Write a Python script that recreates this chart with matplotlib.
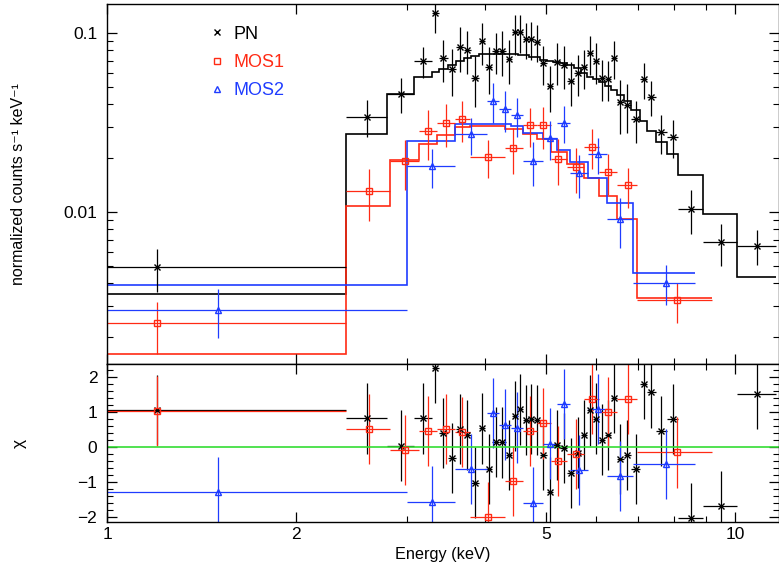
import matplotlib.pyplot as plt
from matplotlib.lines import Line2D
import numpy as np

plt.rcParams['font.family'] = ['Liberation Sans', 'DejaVu Sans']

# ---- PN (black) ----
pn_edges = [0.5, 2.4026, 2.7889, 3.0861, 3.2885, 3.3753, 3.4847, 3.5990, 3.7000, 3.8032,
            3.9047, 4.0018, 4.1072, 4.2123, 4.3141, 4.4149, 4.5049, 4.5934, 4.6905, 4.7861,
            4.8926, 5.0145, 5.1372, 5.2688, 5.4058, 5.5464, 5.6801, 5.8085, 5.9378, 6.0677,
            6.2049, 6.3429, 6.4840, 6.6453, 6.8383, 7.0526, 7.2519, 7.4790, 7.7868, 8.1254,
            8.9011, 10.085, 11.610]
pn_energy = [1.2025, 2.5974, 2.9391, 3.1887, 3.3285, 3.4240, 3.5466, 3.6528, 3.7478, 3.8591,
             3.9507, 4.0533, 4.1632, 4.2607, 4.3667, 4.4638, 4.5465, 4.6425, 4.7390, 4.8338,
             4.9522, 5.0754, 5.2015, 5.3369, 5.4756, 5.6180, 5.7431, 5.8772, 6.0013, 6.1348,
             6.2781, 6.4108, 6.5607, 6.7310, 6.9501, 7.1567, 7.3430, 7.6259, 7.9607, 8.5012,
             9.4903, 10.829]
pn_flux = [0.00491, 0.0341, 0.0456, 0.0698, 0.1298, 0.0725, 0.0627, 0.0838, 0.0807, 0.0563,
           0.0902, 0.0643, 0.0793, 0.0796, 0.0719, 0.1009, 0.1013, 0.0922, 0.0929, 0.0894,
           0.0680, 0.0506, 0.0691, 0.0665, 0.0537, 0.0600, 0.0648, 0.0770, 0.0700, 0.0563,
           0.0556, 0.0725, 0.0410, 0.0396, 0.0330, 0.0553, 0.0441, 0.0279, 0.0262, 0.01039,
           0.00677, 0.00648]
pn_sigma = [0.00132, 0.00805, 0.0101, 0.0138, 0.0302, 0.0191, 0.0181, 0.0234, 0.0218, 0.0179,
            0.0240, 0.0189, 0.0207, 0.0222, 0.0199, 0.0257, 0.0245, 0.0210, 0.0220, 0.0209,
            0.0167, 0.0146, 0.0182, 0.0177, 0.0148, 0.0156, 0.0159, 0.0190, 0.0180, 0.0144,
            0.0139, 0.0174, 0.0136, 0.0119, 0.0087, 0.0128, 0.0097, 0.0067, 0.0063, 0.00281,
            0.00181, 0.00144]
pn_model = [0.003483, 0.02727, 0.04545, 0.0570, 0.0608, 0.0629, 0.0663, 0.0698, 0.0725, 0.0744,
            0.0758, 0.0763, 0.0763, 0.0763, 0.0763, 0.0758, 0.0754, 0.0749, 0.0734, 0.0730,
            0.0707, 0.0698, 0.0684, 0.0675, 0.0658, 0.0638, 0.0598, 0.0568, 0.0550, 0.0529,
            0.0506, 0.0477, 0.0450, 0.0414, 0.0371, 0.0322, 0.0284, 0.0247, 0.0210, 0.0161,
            0.00975, 0.00432]
pn_chi = [1.05, 0.815, 0.04, 0.815, 2.26, 0.40, -0.32, 0.51, 0.34, -1.01,
          0.53, -0.62, 0.15, 0.13, -0.23, 0.88, 1.07, 0.76, 0.79, 0.77,
          -0.23, -1.27, 0.06, -0.02, -0.74, -0.16, 0.34, 1.04, 0.81, 0.21,
          0.34, 1.40, -0.34, -0.23, -0.62, 1.80, 1.55, 0.45, 0.79, -2.03,
          -1.67, 1.51]

# ---- MOS1 (red) ----
m1_edges = [0.5, 2.4026, 2.8225, 3.1426, 3.3534, 3.5821, 3.7847, 4.3029, 4.5914, 4.8332,
            5.0878, 5.3952, 5.7484, 6.0800, 6.4950, 6.9892, 9.1812]
m1_energy = [1.2025, 2.6163, 2.9821, 3.2480, 3.4659, 3.6792, 4.0429, 4.4358, 4.7160, 4.9522,
             5.2316, 5.5762, 5.9131, 6.2781, 6.7474, 8.0756]
m1_flux = [0.002389, 0.01315, 0.01927, 0.02835, 0.03154, 0.03321, 0.02036, 0.02278, 0.0305,
           0.0305, 0.01985, 0.01777, 0.02316, 0.01679, 0.0141, 0.003224]
m1_sigma = [0.00077, 0.0043, 0.00593, 0.00872, 0.00848, 0.0085, 0.00498, 0.00653, 0.0074,
            0.0080, 0.00562, 0.00494, 0.00572, 0.00441, 0.0036, 0.00081]
m1_model = [0.001603, 0.01084, 0.01952, 0.02398, 0.02693, 0.02984, 0.03035, 0.02908, 0.02727,
            0.02557, 0.02164, 0.01854, 0.01548, 0.01233, 0.0091, 0.00332]
m1_chi = [1.03, 0.51, -0.09, 0.46, 0.51, 0.42, -2.0, -0.96, 0.45, 0.67,
          -0.39, -0.19, 1.36, 1.00, 1.36, -0.15]

# ---- MOS2 (blue) ----
m2_edges = [0.5, 3.0041, 3.5821, 4.0325, 4.2092, 4.3938, 4.6015, 4.9517, 5.2067, 5.4616,
            5.8399, 6.2474, 6.8874, 8.6359]
m2_energy = [1.5007, 3.2885, 3.7944, 4.1222, 4.2981, 4.4915, 4.7733, 5.0748, 5.3361, 5.6503,
             6.0446, 6.5596, 7.7562]
m2_flux = [0.002835, 0.01814, 0.02717, 0.04186, 0.03776, 0.03483, 0.01927, 0.02591, 0.03154,
           0.01645, 0.02109, 0.0091, 0.004027]
m2_sigma = [0.000865, 0.00447, 0.00628, 0.01064, 0.00974, 0.00868, 0.00533, 0.00642, 0.00739,
            0.00444, 0.0047, 0.00279, 0.00102]
m2_model = [0.00391, 0.02493, 0.0308, 0.0310, 0.0310, 0.0302, 0.0276, 0.0254, 0.0222,
            0.0191, 0.01543, 0.01127, 0.004544]
m2_chi = [-1.27, -1.55, -0.63, 0.97, 0.64, 0.55, -1.58, 0.10, 1.22, -0.65, 1.08, -0.82, -0.49]

datasets = [
    ('PN', '#000000', 'x', 4.5, pn_edges, pn_energy, pn_flux, pn_sigma, pn_model, pn_chi),
    ('MOS1', '#ff2a14', 's', 5, m1_edges, m1_energy, m1_flux, m1_sigma, m1_model, m1_chi),
    ('MOS2', '#1f3cff', '^', 5, m2_edges, m2_energy, m2_flux, m2_sigma, m2_model, m2_chi),
]

fig = plt.figure(figsize=(7.79, 5.69), dpi=100)
ax = fig.add_axes([0.1374, 0.3603, 0.8626, 0.6327])
axr = fig.add_axes([0.1374, 0.0826, 0.8626, 0.2777], sharex=ax)

handles = []
for name, col, mk, ms, edges, en, fl, sg, mo, chi in datasets:
    edges = np.array(edges)
    en = np.array(en)
    lo = edges[:-1]
    hi = edges[1:]
    xerr = [en - lo, hi - en]
    ax.errorbar(en, fl, xerr=xerr, yerr=sg, fmt=mk, color=col, ms=ms, mfc='none',
                mew=1.0, elinewidth=0.9, capsize=0)
    ax.stairs(mo, edges, baseline=None, color=col, lw=1.2)
    axr.errorbar(en, chi, xerr=xerr, yerr=1.0, fmt=mk, color=col, ms=ms, mfc='none',
                 mew=1.0, elinewidth=0.9, capsize=0)
    handles.append(Line2D([], [], ls='none', marker=mk, color=col, mfc='none', ms=5,
                          mew=1.0, label=name))

axr.axhline(0, color='#33dd33', lw=1.2)

ax.set_xscale('log')
ax.set_yscale('log')
ax.set_xlim(1, 11.75)
ax.set_ylim(0.001416, 0.145)
axr.set_ylim(-2.13, 2.36)

ax.set_ylabel('normalized counts s\u207b\u00b9 keV\u207b\u00b9', fontsize=11.5)
axr.set_ylabel('\u03c7', fontsize=12.5)
axr.set_xlabel('Energy (keV)', fontsize=11.7)
ax.yaxis.set_label_coords(-0.121, 0.5)
axr.yaxis.set_label_coords(-0.119, 0.5)

axr.set_xticks([1, 2, 5, 10])
axr.set_xticklabels(['1', '2', '5', '10'])
axr.set_yticks([-2, -1, 0, 1, 2])
axr.set_yticks(np.arange(-2.0, 2.4, 0.2), minor=True)
ax.set_yticks([0.01, 0.1])
ax.set_yticklabels(['0.01', '0.1'])
plt.setp(ax.get_xticklabels(), visible=False)

for a in (ax, axr):
    a.tick_params(which='both', direction='in', top=True, right=True, labelsize=12.5)
    a.tick_params(which='major', length=7, width=0.9)
    a.tick_params(which='minor', length=4, width=0.8)
    a.tick_params(axis='y', which='both', pad=7)
    for s in a.spines.values():
        s.set_linewidth(1.0)

ax.legend(handles=handles, loc='upper left', bbox_to_anchor=(0.123, 0.985), frameon=False,
          fontsize=13, handletextpad=0.3, labelspacing=0.62, handlelength=1.2,
          labelcolor=[d[1] for d in datasets])

fig.savefig('out.png', dpi=100)
